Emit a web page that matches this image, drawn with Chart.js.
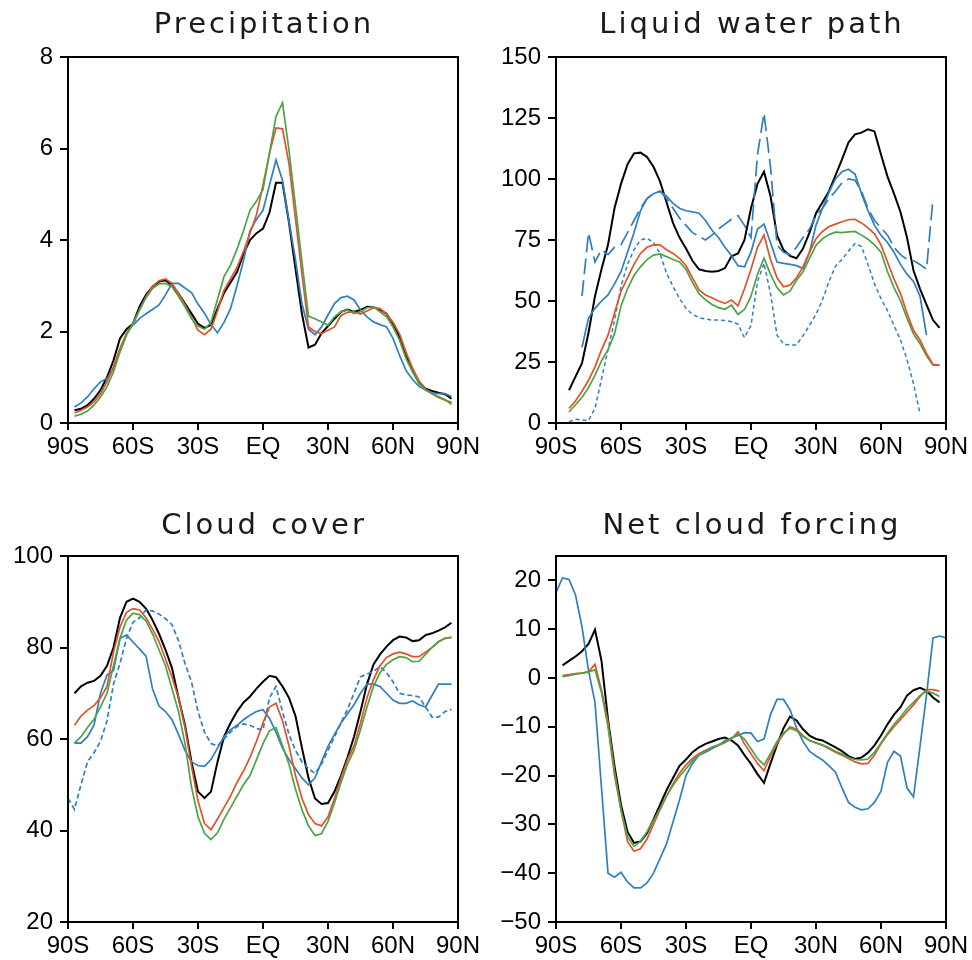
<!DOCTYPE html>
<html>
<head>
<meta charset="utf-8">
<script src="https://cdn.jsdelivr.net/npm/chart.js@4.4.1/dist/chart.umd.min.js"></script>
<style>
  body { margin: 0; background: #fff; }
  .panel { position: absolute; width: 486px; height: 480px; }
</style>
</head>
<body>
<div class="panel" style="left:0;top:0"><canvas id="precip" width="486" height="480"></canvas></div>
<div class="panel" style="left:486px;top:0"><canvas id="lwp" width="486" height="480"></canvas></div>
<div class="panel" style="left:0;top:480px"><canvas id="cloud" width="486" height="480"></canvas></div>
<div class="panel" style="left:486px;top:480px"><canvas id="forcing" width="486" height="480"></canvas></div>
<script>
// latitude grid, 90S..90N every 3 degrees
const lat = [];
for (let l = -90; l <= 90; l += 3) lat.push(l);
const latLabels = ['90S', '60S', '30S', 'EQ', '30N', '60N', '90N'];

// precipitation (mm/day)
const precipBlack = [null, 0.28, 0.31, 0.39, 0.53, 0.72, 1.0, 1.37, 1.85, 2.05, 2.17, 2.54, 2.8, 2.98, 3.09, 3.12, 3.01, 2.83, 2.61, 2.39, 2.17, 2.08, 2.14, 2.5, 2.84, 3.07, 3.3, 3.7, 4.0, 4.15, 4.25, 4.6, 5.25, 5.25, 4.38, 3.37, 2.38, 1.65, 1.71, 1.96, 2.12, 2.28, 2.43, 2.48, 2.43, 2.47, 2.54, 2.53, 2.48, 2.39, 2.17, 1.88, 1.48, 1.15, 0.9, 0.75, 0.7, 0.66, 0.63, 0.53, null];
const precipRed = [null, 0.22, 0.28, 0.35, 0.46, 0.64, 0.9, 1.23, 1.63, 1.96, 2.17, 2.47, 2.76, 2.98, 3.11, 3.15, 3.05, 2.83, 2.58, 2.31, 2.03, 1.93, 2.05, 2.45, 2.9, 3.15, 3.4, 3.75, 4.15, 4.55, 5.2, 5.9, 6.45, 6.43, 5.67, 4.46, 3.25, 2.1, 2.0, 1.95, 2.03, 2.1, 2.35, 2.42, 2.43, 2.38, 2.45, 2.52, 2.5, 2.38, 2.2, 1.95, 1.55, 1.2, 0.92, 0.74, 0.64, 0.56, 0.5, 0.45, null];
const precipGreen = [null, 0.15, 0.19, 0.26, 0.39, 0.57, 0.79, 1.12, 1.55, 1.92, 2.17, 2.47, 2.74, 2.94, 3.04, 3.05, 2.98, 2.77, 2.54, 2.28, 2.12, 2.05, 2.2, 2.7, 3.2, 3.45, 3.8, 4.2, 4.65, 4.85, 5.1, 5.9, 6.7, 7.0, 5.96, 4.74, 3.51, 2.33, 2.28, 2.21, 2.14, 2.32, 2.43, 2.47, 2.39, 2.43, 2.52, 2.54, 2.43, 2.32, 2.1, 1.81, 1.41, 1.12, 0.86, 0.72, 0.64, 0.58, 0.51, 0.41, null];
const precipBlue = [null, 0.35, 0.44, 0.57, 0.75, 0.9, 0.97, 1.19, 1.59, 1.96, 2.14, 2.28, 2.39, 2.48, 2.58, 2.8, 3.05, 3.05, 2.95, 2.85, 2.6, 2.4, 2.15, 1.97, 2.2, 2.5, 3.0, 3.55, 4.2, 4.45, 4.65, 5.2, 5.75, 5.3, 4.41, 3.57, 2.6, 2.05, 1.93, 2.1, 2.36, 2.61, 2.74, 2.77, 2.69, 2.47, 2.32, 2.21, 2.15, 2.1, 1.85, 1.48, 1.15, 0.95, 0.8, 0.72, 0.66, 0.64, 0.64, 0.58, null];

// liquid water path (g/m2)
const lwpBlack = [null, null, 13.4, 19, 24.5, 37, 52, 63, 73, 88, 98, 106, 110.5, 110.8, 109, 105, 99, 90.5, 82, 76, 71.5, 66.5, 63, 62.3, 62, 62.3, 63.5, 68.3, 69.5, 75, 88, 98, 103, 93, 77, 70.9, 68.5, 67.5, 71.5, 78, 86, 90.5, 95, 101.5, 108, 115, 118.3, 119, 120.4, 119.5, 110, 101, 94, 86.5, 76, 62.5, 55, 48.5, 42.2, 39, null];
const lwpRed = [null, null, 6, 9, 13, 17.5, 23, 30, 36, 45, 54, 59.5, 65, 69.5, 72, 73, 73, 71, 69.5, 67.5, 64.5, 59.5, 54.5, 52.5, 51.3, 50, 49, 50.4, 48, 55, 63, 72, 77, 67, 59.5, 55.8, 56.5, 59.5, 64, 70, 75.5, 78.5, 80.5, 81.5, 82.5, 83.3, 83.5, 82, 80, 77.5, 73, 66, 59, 53, 45, 38, 34, 28.5, 24, 23.7, null];
const lwpGreen = [null, null, 4.5, 7.5, 10.5, 14.5, 19.5, 25.5, 30, 36.5, 48, 55, 60.5, 64, 67, 68.8, 69.3, 68.2, 67, 66, 63, 57.5, 53, 50.5, 48.6, 47.3, 46.6, 48.3, 44.5, 46.5, 52, 61, 67.5, 61, 55.5, 52.5, 54, 58.5, 62, 67.5, 72.8, 75.5, 77.2, 78.2, 78, 78.3, 78.5, 77, 75.3, 73, 70, 62, 55.5, 50, 43, 36.5, 32.5, 27.5, 23.7, 23.7, null];
const lwpObsA = [null, null, null, null, 31, 43, 47, 50, 52.5, 57, 62, 70, 78, 87, 92, 94, 95, 93, 90, 88, 87, 86.5, 86, 83, 79, 76, 72, 68.5, 64.5, 64, 70, 79.5, 81.5, 74, 66, 65.4, 65, 64.5, 63.4, 70, 81, 88, 94.5, 100, 103, 104, 102, 94, 87, 81, 77, 74, 70, 65, 61, 58, 52, 36, null, null, null];
const lwpObsB = [null, null, null, null, 52, 78, 66, 71, 69, 72, 73, 78, 83, 88, 92, 94, 95, 92, 88, 84, 81, 78, 76.5, 75, 77, 79.5, 81.5, 83.5, 85, 81, 76, 110, 127, 105, 73, 70, 69, 72, 76, 79.5, 85, 88, 92, 95, 98.5, 100, 99.5, 95, 88, 83, 80, 77, 72, 69, 67, 66.5, 65, 63, 92, null, null];
const lwpObsC = [null, null, 0.5, 1.5, 1.2, 1, 6, 18, 30, 42, 56, 65, 71, 75, 75.7, 74, 69.5, 61.5, 56, 51, 47, 44.5, 43.2, 42.6, 42.2, 42.2, 42, 41.5, 40.5, 35, 40, 58, 65.5, 53, 36, 32.3, 32, 32, 35.8, 40, 44.5, 50.5, 58, 64.3, 67, 70.5, 73.6, 72.3, 65, 57, 51, 46, 40, 34, 26, 16, 4, null, null, null, null];

// total cloud cover (%)
const cloudBlack = [null, 70, 71.5, 72.3, 72.7, 73.8, 76, 80, 86.5, 90, 90.7, 90, 88.5, 86, 83, 79.5, 75.5, 69, 63, 55, 48.5, 47.1, 48.5, 55, 60.5, 63.5, 66, 68, 69.3, 71, 72.5, 73.8, 73.5, 71.5, 69, 65, 58, 51.5, 47, 45.8, 46, 48.5, 52, 56, 60.5, 66, 72, 76.3, 78.5, 80.2, 81.6, 82.4, 82.2, 81.4, 81.6, 82.7, 83.1, 83.7, 84.4, 85.4, null];
const cloudRed = [null, 63, 65, 66.3, 67.3, 69, 71.5, 79, 84.5, 87.7, 88.5, 88.2, 86.5, 84, 81.3, 77.5, 73.5, 69, 62.5, 54, 46.5, 41.5, 40.2, 42.5, 45, 47.5, 50.5, 53, 56, 59.5, 63.5, 67, 67.8, 64, 58.5, 52, 47, 43.5, 41.5, 41, 43, 47, 51.5, 55.5, 58.5, 63.5, 69, 73, 76, 77.8, 78.6, 79, 78.6, 78, 78, 79, 80, 81.2, 82, 82.2, null];
const cloudGreen = [null, 59.1, 60.5, 62.5, 64.3, 67, 70, 76, 82, 86, 87.5, 87.2, 85.8, 83, 79.5, 76, 71, 66, 59, 49.5, 43, 39.4, 38, 39.5, 42.5, 45, 47.5, 50, 52, 55.5, 59, 61.8, 62.5, 58.5, 54.5, 49, 44.5, 41, 38.9, 39.3, 42, 46, 50.5, 54.5, 57.5, 62, 67, 71.5, 74.5, 76.3, 77.3, 78, 77.8, 76.9, 77, 78.5, 80, 81.3, 82, 82.2, null];
const cloudObsA = [null, 59.1, 59.1, 60.5, 63, 70, 74, 75, 82, 82.7, 81.2, 79.7, 78.1, 71, 67.2, 66, 64.2, 61, 57.5, 55, 54.2, 54, 55.5, 58, 60.5, 62, 63, 64.2, 65.2, 66, 66.4, 64.5, 61.5, 58, 55.5, 53.5, 51.5, 50, 51.5, 55, 58.4, 61, 63.5, 65.5, 67.5, 70, 72, 72, 71.5, 70, 68.5, 67.8, 67.8, 68.3, 67.5, 67, 69.5, 72, 72, 72, null];
const cloudObsB = [47, 44.6, 50, 55, 57, 59.5, 64, 72, 76.5, 82, 85.5, 86.5, 88.2, 88, 87.3, 86.3, 85, 81.5, 76.5, 72.5, 66, 61.5, 59, 58.5, 60, 61.5, 62.7, 63.3, 63, 62.3, 62, 69, 71.5, 66, 61, 57.5, 55, 53.5, 52.5, 54.5, 57.5, 60.5, 63.5, 66.5, 70, 73.6, 74.2, 74.8, 75.8, 74.5, 72.5, 70, 69.6, 69.5, 69.2, 67, 64.8, 64.8, 66, 66.5, null];

// net cloud forcing (W/m2)
const forcingBlack = [null, 2.6, 3.5, 4.4, 5.5, 7, 9.9, 3.5, -8.5, -18, -26, -31.5, -33.8, -33.5, -31.8, -29, -26, -23, -20.5, -18, -16.7, -15.2, -14.2, -13.5, -13, -12.5, -12.2, -12.8, -13.8, -15.8, -17.6, -19.7, -21.5, -17.5, -13.7, -10.3, -7.9, -8.7, -10.5, -11.8, -12.5, -12.8, -13.5, -14.2, -15, -16, -16.6, -16.3, -15.3, -13.8, -11.8, -9.5, -7.5, -6, -3.6, -2.5, -2, -2.6, -4, -5, null];
const forcingRed = [null, 0.5, 0.7, 0.9, 1, 1.3, 2.8, -2.5, -9, -19, -27, -33.5, -35.5, -35, -33, -30, -27, -24.2, -21.7, -19.5, -17.8, -16.5, -15.5, -14.8, -14.2, -13.8, -13.2, -12.5, -11, -13.5, -15.5, -17.5, -19, -16, -13.5, -11.5, -10, -10.5, -11.8, -12.8, -13.3, -13.8, -14.5, -15.2, -15.8, -16.5, -17.2, -17.6, -17.5, -15.8, -13.5, -11.6, -10, -8.5, -7, -5.5, -3.8, -2.4, -2.4, -2.7, null];
const forcingGreen = [null, 0.3, 0.5, 0.8, 1, 1.2, 1.7, -3, -10, -20, -27, -32.5, -34.5, -33.5, -31.5, -29.2, -26.8, -24.2, -22, -20.2, -18.6, -17, -15.8, -15, -14.2, -13.7, -13.2, -12.3, -11.5, -12.5, -14.5, -16.5, -17.8, -15.5, -13, -11.3, -10.3, -10.8, -12, -12.8, -13.3, -13.7, -14.3, -15, -15.6, -16.3, -16.7, -16.8, -16.6, -15.2, -13.3, -11.3, -9.5, -8, -6.3, -5, -3.6, -2.7, -3.1, -3.8, null];
const forcingObs = [17.5, 20.5, 20.2, 17, 10.5, 1.5, -5, -22.5, -40, -40.8, -39.8, -41.8, -43, -43, -42, -40, -37, -34, -29.5, -25, -20, -17.5, -15.8, -15.2, -14.5, -13.8, -12.8, -12.3, -11.8, -11.2, -11.3, -13, -12.5, -7.5, -4.4, -4.4, -6.5, -10.2, -13, -15, -16, -16.8, -18, -19.3, -22.5, -25.5, -26.5, -27, -26.8, -25.5, -23.2, -17.3, -15, -16, -22.5, -24.4, -14, -3.5, 8.2, 8.6, 8.2];

const BLACK = '#000000', RED = '#e4502a', GREEN = '#4ba445', BLUE = '#2f7fc0';

function line(values, color, width, dash) {
  return {
    data: values,
    borderColor: color,
    borderWidth: width,
    borderDash: dash || [],
    pointRadius: 0,
    fill: false,
    tension: 0,
    spanGaps: false
  };
}

// box round the plot area plus the panel title above it
const framePlugin = {
  id: 'frame',
  afterDraw(chart, args, opts) {
    const { ctx, chartArea: a } = chart;
    ctx.save();
    ctx.strokeStyle = '#000';
    ctx.lineWidth = 2;
    ctx.strokeRect(a.left, a.top, a.right - a.left, a.bottom - a.top);
    ctx.fillStyle = '#1a1a1a';
    ctx.font = '29px "DejaVu Sans"';
    ctx.letterSpacing = '3px';
    ctx.textAlign = 'center';
    ctx.textBaseline = 'alphabetic';
    ctx.fillText(opts.text, (a.left + a.right) / 2 + 1, opts.baseline);
    ctx.restore();
  }
};

function makePanel(id, title, datasets, y, box) {
  new Chart(document.getElementById(id), {
    type: 'line',
    data: { labels: lat, datasets: datasets },
    plugins: [framePlugin],
    options: {
      responsive: false,
      animation: false,
      layout: { padding: { top: box.top, right: box.right, left: 0, bottom: 0 } },
      plugins: {
        legend: { display: false },
        tooltip: { enabled: false },
        frame: { text: title, baseline: box.baseline }
      },
      scales: {
        x: {
          type: 'linear',
          min: -90,
          max: 90,
          afterFit: s => { s.height = box.xh; },
          border: { display: false },
          grid: { drawOnChartArea: false, drawTicks: true, tickLength: 7, lineWidth: 2, color: '#000' },
          ticks: {
            stepSize: 30,
            autoSkip: false,
            maxRotation: 0,
            padding: 3,
            color: '#000',
            font: { family: 'Liberation Sans', size: 24 },
            callback: v => latLabels[Math.round((v + 90) / 30)]
          }
        },
        y: {
          min: y.min,
          max: y.max,
          afterFit: s => { s.width = box.yw; },
          border: { display: false },
          grid: { drawOnChartArea: false, drawTicks: true, tickLength: 8, lineWidth: 2, color: '#000' },
          ticks: {
            stepSize: y.step,
            includeBounds: false,
            padding: 7,
            color: '#000',
            font: { family: 'Liberation Sans', size: 24 },
            callback: v => String(v).replace('-', '\u2212')
          }
        }
      }
    }
  });
}

const topLeft = { top: 57, right: 28, xh: 57, yw: 68, baseline: 33 };
const topRight = { top: 57, right: 26, xh: 57, yw: 70, baseline: 33 };
const botLeft = { top: 76, right: 28, xh: 38, yw: 68, baseline: 54 };
const botRight = { top: 76, right: 26, xh: 38, yw: 70, baseline: 54 };

makePanel('precip', 'Precipitation', [
  line(precipGreen, GREEN, 1.7),
  line(precipRed, RED, 1.7),
  line(precipBlue, BLUE, 1.7),
  line(precipBlack, BLACK, 2)
], { min: 0, max: 8, step: 2 }, topLeft);

makePanel('lwp', 'Liquid water path', [
  line(lwpRed, RED, 1.7),
  line(lwpGreen, GREEN, 1.7),
  line(lwpObsA, BLUE, 1.7),
  line(lwpObsB, BLUE, 1.7, [16, 6]),
  line(lwpObsC, BLUE, 1.5, [4, 3]),
  line(lwpBlack, BLACK, 2)
], { min: 0, max: 150, step: 25 }, topRight);

makePanel('cloud', 'Cloud cover', [
  line(cloudGreen, GREEN, 1.7),
  line(cloudRed, RED, 1.7),
  line(cloudObsA, BLUE, 1.7),
  line(cloudObsB, BLUE, 1.7, [5, 3]),
  line(cloudBlack, BLACK, 2)
], { min: 20, max: 100, step: 20 }, botLeft);

makePanel('forcing', 'Net cloud forcing', [
  line(forcingGreen, GREEN, 1.7),
  line(forcingRed, RED, 1.7),
  line(forcingObs, BLUE, 1.7),
  line(forcingBlack, BLACK, 2)
], { min: -50, max: 25, step: 10 }, botRight);
</script>
</body>
</html>
